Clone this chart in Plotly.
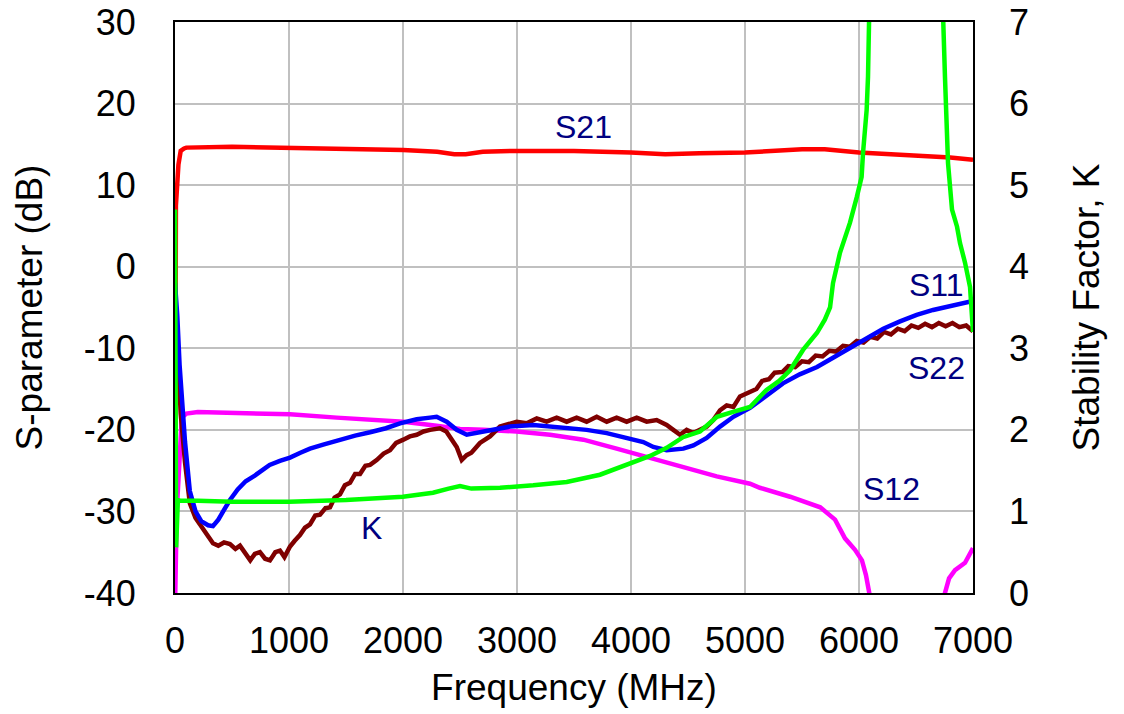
import plotly.graph_objects as go

# ---------------- data ----------------
s21_f = [0, 8, 30, 50, 80, 100, 500, 1000, 1500, 2000, 2300, 2450, 2550, 2700, 3000, 3500,
         4000, 4300, 4600, 5000, 5500, 5700, 6000, 6300, 6500, 6800, 7000]
s21_db = [-34, 7.5, 12.5, 14.2, 14.5, 14.6, 14.7, 14.6, 14.5, 14.3, 14.1, 13.8, 13.8, 14.1, 14.2, 14.2,
          14.0, 13.8, 13.9, 14.0, 14.4, 14.4, 14.0, 13.8, 13.6, 13.4, 13.1]

s12_f = [0, 15, 60, 100, 200, 541, 1009, 1418, 1710, 2003, 2295, 2500, 2705, 2997, 3290, 3582,
         3874, 4167, 4459, 4752, 5044, 5130, 5395, 5660, 5790, 5877, 5965, 6026, 6061, 6096,
         6130, 6400, 6720, 6754, 6790, 6842, 6930, 7000]
s12_db = [-42, -30, -18.5, -18.0, -17.8, -17.9, -18.1, -18.5, -18.7, -19.0, -19.5, -19.9, -20.0,
          -20.2, -20.6, -21.2, -22.3, -23.4, -24.6, -25.7, -26.6, -27.1, -28.2, -29.5, -31.0,
          -33.3, -34.7, -36.0, -37.8, -40.0, -43, -55, -43, -40.0, -38.2, -37.2, -36.3, -34.5]

s11_f = [0, 20, 40, 60, 88, 130, 180, 230, 290, 333, 380, 430, 482, 550, 620, 700, 745, 830, 920,
         1009, 1100, 1184, 1300, 1447, 1580, 1711, 1850, 1974, 2120, 2237, 2295, 2383, 2471, 2559,
         2647, 2763, 2939, 3143, 3290, 3436, 3611, 3787, 3962, 4108, 4196, 4313, 4459, 4547, 4664,
         4781, 4898, 5044, 5150, 5333, 5480, 5632, 5780, 5921, 6067, 6213, 6360, 6506, 6650, 6798,
         6900, 7000]
s11_db = [-2, -6, -12, -16, -21.5, -27.5, -30.0, -31.2, -31.7, -31.8, -31.0, -29.8, -28.6, -27.3,
          -26.3, -25.6, -25.2, -24.3, -23.8, -23.4, -22.8, -22.3, -21.8, -21.2, -20.7, -20.3, -19.8,
          -19.2, -18.7, -18.5, -18.4, -19.0, -20.0, -20.6, -20.4, -20.0, -19.6, -19.4, -19.6, -19.8,
          -20.0, -20.4, -21.0, -21.5, -22.1, -22.5, -22.3, -21.9, -21.0, -19.6, -18.4, -17.3, -16.2,
          -14.3, -13.2, -12.3, -11.1, -10.0, -8.8, -7.6, -6.7, -5.9, -5.3, -4.8, -4.5, -4.2]

s22_f = [0, 20, 50, 88, 130, 180, 220, 270, 333, 380, 430, 482, 530, 570, 614, 660, 700, 745, 790,
         833, 880, 921, 960, 1009, 1050, 1096, 1140, 1184, 1230, 1272, 1320, 1360, 1400, 1447, 1490,
         1535, 1580, 1623, 1670, 1711, 1769, 1830, 1886, 1940, 2003, 2060, 2120, 2180, 2237, 2324,
         2380, 2412, 2471, 2515, 2558, 2600, 2675, 2763, 2851, 2997, 3085, 3173, 3260, 3348, 3436,
         3523, 3611, 3699, 3787, 3874, 3962, 4050, 4138, 4225, 4313, 4371, 4430, 4488, 4547, 4605,
         4664, 4722, 4781, 4839, 4898, 4956, 5044, 5100, 5150, 5210, 5260, 5330, 5380, 5440, 5500,
         5560, 5620, 5680, 5740, 5800, 5860, 5920, 5980, 6040, 6100, 6160, 6220, 6280, 6340, 6400,
         6460, 6520, 6580, 6640, 6700, 6760, 6820, 6880, 6940, 7000]
s22_db = [-3, -10, -18, -24, -29, -30.8, -31.6, -32.8, -33.9, -34.2, -33.8, -34.0, -34.6, -34.2,
          -35.2, -36.0, -35.2, -35.0, -35.8, -36.0, -35.0, -34.8, -35.6, -34.3, -33.6, -32.9, -32.0,
          -31.6, -30.5, -30.4, -29.6, -29.5, -28.3, -27.9, -26.8, -26.5, -25.4, -25.4, -24.4, -24.3,
          -23.7, -22.9, -22.5, -21.6, -21.2, -20.8, -20.6, -20.2, -20.0, -19.8, -20.2, -20.8, -22.1,
          -23.7, -23.1, -22.8, -21.6, -20.8, -19.6, -19.0, -19.2, -18.6, -19.0, -18.5, -19.0, -18.5,
          -19.0, -18.4, -19.0, -18.5, -19.0, -18.5, -19.0, -18.8, -19.4, -20.0, -20.6, -20.0, -20.4,
          -20.0, -19.6, -18.8, -17.6, -17.0, -17.2, -15.9, -15.3, -15.0, -14.0, -13.8, -13.0, -12.9,
          -12.2, -12.3, -11.6, -11.7, -10.9, -11.0, -10.3, -10.4, -9.7, -9.8, -9.1, -9.3, -8.6, -8.8,
          -8.0, -8.3, -7.6, -7.9, -7.2, -7.5, -7.0, -7.4, -6.9, -7.3, -6.9, -7.4, -7.2, -7.9]

k_f = [0, 10, 25, 50, 200, 500, 1000, 1500, 2000, 2263, 2400, 2500, 2600, 2705, 2851, 3143, 3436,
       3728, 4018, 4167, 4313, 4456, 4605, 4754, 4895, 5044, 5189, 5300, 5395, 5509, 5632, 5700,
       5746, 5772, 5833, 5921, 5980, 6023, 6035, 6067, 6079, 6096, 6120, 6400, 6720, 6737, 6754,
       6772, 6781, 6816, 6860, 6886, 6930, 6974, 7000]
k_val = [4.7, 0.56, 1.14, 1.13, 1.13, 1.12, 1.12, 1.14, 1.18, 1.23, 1.28, 1.31, 1.28, 1.28, 1.29,
         1.32, 1.36, 1.45, 1.61, 1.68, 1.78, 1.91, 1.98, 2.16, 2.22, 2.28, 2.49, 2.60, 2.73, 2.98,
         3.19, 3.35, 3.50, 3.80, 4.17, 4.54, 4.85, 5.10, 5.39, 5.92, 6.33, 7.1, 9.0, 30.0, 9.0, 7.1,
         6.33, 5.52, 5.27, 4.70, 4.49, 4.29, 4.05, 3.75, 3.20]

x_ticks = [0, 1000, 2000, 3000, 4000, 5000, 6000, 7000]
y_ticks = [-40, -30, -20, -10, 0, 10, 20, 30]
k_ticks = [0, 1, 2, 3, 4, 5, 6, 7]

labels = ["S21", "S11", "S22", "S12", "K"]
label_f = [3579, 6684, 6684, 6281, 1728]
label_db = [17.1, -2.2, -12.4, -27.3, -32.0]

# ---------------- figure ----------------
FONT = "Liberation Sans, Arial, sans-serif"
fig = go.Figure()
LW = 4.5
fig.add_trace(go.Scatter(x=s21_f, y=s21_db, mode="lines", line=dict(color="#FF0000", width=LW), name="S21"))
fig.add_trace(go.Scatter(x=s12_f, y=s12_db, mode="lines", line=dict(color="#FF00FF", width=LW), name="S12"))
fig.add_trace(go.Scatter(x=s22_f, y=s22_db, mode="lines", line=dict(color="#7F0000", width=LW), name="S22"))
fig.add_trace(go.Scatter(x=s11_f, y=s11_db, mode="lines", line=dict(color="#0000FF", width=LW), name="S11"))
fig.add_trace(go.Scatter(x=k_f, y=k_val, mode="lines", line=dict(color="#00FF00", width=LW), name="K", yaxis="y2"))

for t, fx, fy in zip(labels, label_f, label_db):
    fig.add_annotation(x=fx, y=fy, xref="x", yref="y", text=t, showarrow=False,
                       font=dict(family=FONT, size=32, color="#000080"))

fig.update_layout(
    width=1124, height=714,
    margin=dict(l=175, r=151, t=22, b=121, autoexpand=False),
    paper_bgcolor="white", plot_bgcolor="white",
    showlegend=False,
    font=dict(family=FONT, size=36, color="black"),
    xaxis=dict(range=[0, 7000], tickvals=x_ticks, ticktext=[str(v) for v in x_ticks],
               showgrid=True, gridcolor="#C0C0C0", gridwidth=2, automargin=False,
               showline=True, linecolor="black", linewidth=2, mirror=True,
               zeroline=False, ticks="", ticklabelstandoff=15, ticklabeloverflow="allow",
               title=dict(text="Frequency (MHz)", font=dict(size=37), standoff=14)),
    yaxis=dict(range=[-40, 30], tickvals=y_ticks, ticktext=[str(v) for v in y_ticks],
               showgrid=True, gridcolor="#C0C0C0", gridwidth=2, automargin=False,
               showline=True, linecolor="black", linewidth=2, mirror=True,
               zeroline=False, ticks="", ticklabelstandoff=30, ticklabeloverflow="allow",
               title=dict(text="S-parameter (dB)", font=dict(size=37), standoff=30)),
    yaxis2=dict(range=[0, 7], tickvals=k_ticks, ticktext=[str(v) for v in k_ticks],
                overlaying="y", side="right", showgrid=False, zeroline=False, automargin=False,
                showline=False, ticks="", ticklabelstandoff=35, ticklabeloverflow="allow",
                title=dict(text="Stability Factor, K", font=dict(size=37), standoff=45)),
)

fig.write_html("out.html", post_script="document.body.style.margin='0';",
               config={"displayModeBar": False})
